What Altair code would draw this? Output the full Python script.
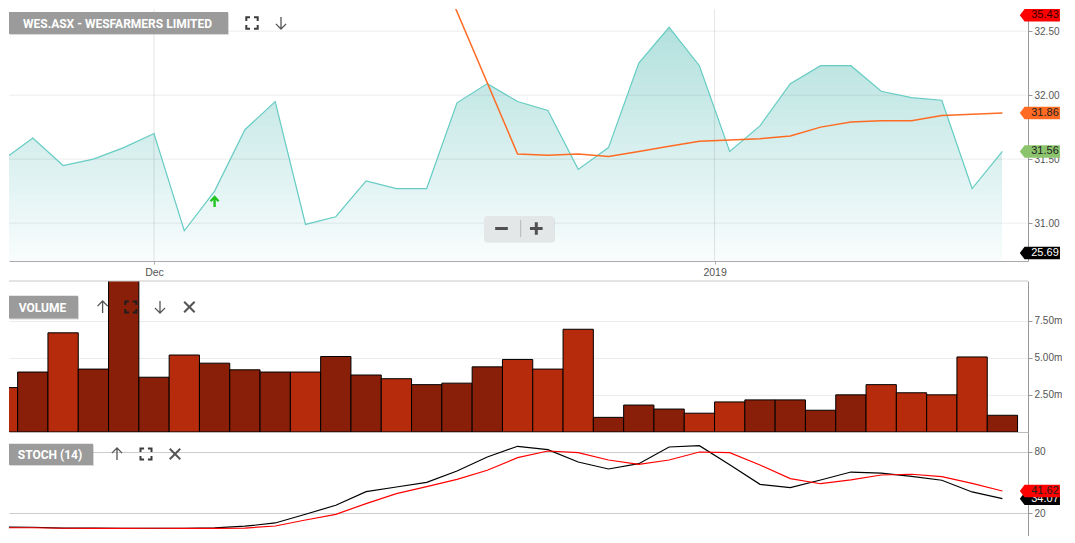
import altair as alt
import pandas as pd

# ---------------- data ----------------
dates = ["2018-11-26", "2018-11-27", "2018-11-28", "2018-11-29", "2018-11-30",
         "2018-12-03", "2018-12-04", "2018-12-05", "2018-12-06", "2018-12-07",
         "2018-12-10", "2018-12-11", "2018-12-12", "2018-12-13", "2018-12-14",
         "2018-12-17", "2018-12-18", "2018-12-19", "2018-12-20", "2018-12-21",
         "2018-12-24", "2018-12-27", "2018-12-28", "2018-12-31",
         "2019-01-02", "2019-01-03", "2019-01-04", "2019-01-07", "2019-01-08",
         "2019-01-09", "2019-01-10", "2019-01-11", "2019-01-14", "2019-01-15"]

close = [31.49, 31.665, 31.45, 31.50, 31.59, 31.70, 30.94, 31.25, 31.73, 31.95,
         30.99, 31.05, 31.33, 31.27, 31.27, 31.94, 32.09, 31.95, 31.88, 31.42,
         31.59, 32.25, 32.53, 32.23, 31.56, 31.76, 32.09, 32.23, 32.23, 32.03,
         31.98, 31.96, 31.27, 31.56]

sma = ([None] * 10 + [35.43] + [None] * 6 +
       [31.54, 31.53, 31.54, 31.52, 31.56, 31.60, 31.64, 31.65, 31.66, 31.68,
        31.75, 31.79, 31.80, 31.80, 31.84, 31.85, 31.86])

volume_m = [3.0, 4.05, 6.7, 4.25, 10.6, 3.7, 5.2, 4.65, 4.2, 4.05,
            4.05, 5.1, 3.85, 3.6, 3.2, 3.3, 4.4, 4.9, 4.25, 6.94,
            0.99, 1.82, 1.55, 1.27, 2.03, 2.17, 2.17, 1.47, 2.51, 3.20,
            2.65, 2.51, 5.07, 1.13]

vol_dir = ["down", "up", "down", "up", "up", "up", "down", "up", "up", "up",
           "down", "up", "up", "down", "up", "up", "up", "down", "down", "down",
           "up", "up", "up", "down", "down", "up", "up", "up", "up", "down",
           "down", "down", "down", "up"]

stoch_k = [6.2, 6.0, 5.2, 5.2, 5.0, 5.0, 5.0, 5.3, 7.0, 10.2,
           18.8, 27.6, 41.0, 45.6, 50.2, 61.3, 75.1, 85.6, 82.3, 70.2,
           63.3, 68.5, 84.9, 86.2, 67.5, 48.2, 44.9, 52.5, 60.3, 59.3,
           56.1, 52.2, 40.7, 34.07]

stoch_d = [5.5, 5.5, 5.0, 4.8, 4.8, 5.0, 4.8, 4.8, 5.2, 7.2,
           13.1, 18.7, 29.2, 39.0, 45.9, 53.1, 62.0, 74.4, 81.0, 79.3,
           72.1, 67.9, 72.1, 80.0, 79.3, 67.2, 53.8, 48.8, 52.5, 57.4,
           58.1, 55.7, 49.2, 41.62]

signal_idx = [7]
signal_val = [31.165]

price_ticks = [31.0, 31.5, 32.0, 32.5]
volume_ticks = [2.5, 5.0, 7.5]
stoch_ticks = [20, 80]

price_tag_series = ["upper", "sma", "close", "lower"]
price_tag_values = [35.43, sma[-1], close[-1], 25.69]
stoch_tag_series = ["%K", "%D"]
stoch_tag_values = [stoch_k[-1], stoch_d[-1]]

title_text = "WES.ASX - WESFARMERS LIMITED"

# ---------------- layout / style ----------------
W = 1019
PH, VH, SH = 252, 151, 104
STEP = 30.3
X_LO = 6.5 / STEP
X_HI = X_LO + W / STEP
P_LO, P_HI = 30.704, 32.673
PXU = PH / (P_HI - P_LO)
V_HI = 10.2
S_LO, S_HI = -2.62, 99.67

TEAL = "#66ccc3"
ORANGE = "#ff6b22"
GREEN_TAG = "#8cc46e"
RED = "#ff0000"
BAR_DOWN = "#b72b0d"
BAR_UP = "#891f09"
FONT = "Liberation Sans"

TAG = "M -0.77 0 L 0 -1 L 5.66 -1 L 5.66 1 L 0 1 Z"
FULL = ("M -1 -0.35 L -1 -1 L -0.35 -1 M 0.35 -1 L 1 -1 L 1 -0.35 "
        "M 1 0.35 L 1 1 L 0.35 1 M -0.35 1 L -1 1 L -1 0.35")
UP = "M 0 1 L 0 -1 M -0.85 -0.15 L 0 -1 L 0.85 -0.15"
DOWN = "M 0 -1 L 0 1 M -0.85 0.15 L 0 1 L 0.85 0.15"
CROSS = "M -1 -1 L 1 1 M 1 -1 L -1 1"
SIG = "M 0 1 L 0 -1 M -0.8 -0.15 L 0 -1 L 0.8 -0.15"
MINUS = "M -1 0 L 1 0"
PLUS = "M -1 0 L 1 0 M 0 -1 L 0 1"

N = len(dates)
df = pd.DataFrame({"i": list(range(N)), "date": dates, "close": close, "sma": sma,
                   "vol": volume_m, "dir": vol_dir, "k": stoch_k, "d": stoch_d})

# x ticks at month / year boundaries
dts = pd.to_datetime(pd.Series(dates))
tick_pos, tick_lab = [], []
for j in range(1, N):
    if dts[j].year != dts[j - 1].year:
        tick_pos.append(j - 0.5)
        tick_lab.append(str(dts[j].year))
    elif dts[j].month != dts[j - 1].month:
        tick_pos.append(float(j))
        tick_lab.append(dts[j].strftime("%b"))
label_expr = " : ".join(f"datum.value == {p} ? '{l}'" for p, l in zip(tick_pos, tick_lab)) + " : ''"

xscale = alt.Scale(domain=[X_LO, X_HI], nice=False, zero=False)
pscale = alt.Scale(domain=[P_LO, P_HI], nice=False, zero=False)
vscale = alt.Scale(domain=[0, V_HI], nice=False, zero=False)
sscale = alt.Scale(domain=[S_LO, S_HI], nice=False, zero=False)
one = pd.DataFrame({"k": [0]})

# axis objects (re-used identically by every layer of a panel)
ax_px = alt.Axis(values=tick_pos, labelExpr=label_expr, grid=False,
                 tickSize=3, tickColor="#aaaaaa", domainColor="#aaaaaa", labelPadding=3,
                 labelFontSize=10.5, labelColor="#555555", labelFlush=False, title=None)
ax_py = alt.Axis(orient="right", values=price_ticks, format=".2f", grid=False,
                 tickSize=4, labelPadding=2, domainColor="#999999",
                 tickColor="#999999", title=None)
ax_vx = alt.Axis(labels=False, ticks=False, grid=False, domain=True, domainColor="#bbbbbb", title=None)
ax_vy = alt.Axis(orient="right", values=volume_ticks, labelExpr="format(datum.value, '.2f') + 'm'",
                 grid=True, gridColor="#ececec", tickSize=4, labelPadding=2,
                 domainColor="#999999", tickColor="#999999", title=None)
ax_sx = alt.Axis(labels=False, ticks=False, grid=False, domain=True, domainColor="#c8c8c8", title=None)
ax_sy = alt.Axis(orient="right", values=stoch_ticks, format="d", grid=True, gridColor="#cccccc",
                 tickSize=4, labelPadding=2, domainColor="#999999", tickColor="#999999", title=None)


def pt(shape, x, y, size, color, sw=1.5):
    return alt.Chart(one).mark_point(shape=shape, filled=False, size=size, color=color,
                                     opacity=1, strokeWidth=sw).encode(
        x=alt.value(x), y=alt.value(y))


def label_box(text, x0, x1, y0, y1):
    d = pd.DataFrame({"t": [text]})
    shadow = alt.Chart(d).mark_rect(color="#000000", opacity=0.15).encode(
        x=alt.value(x0 + 1), x2=alt.value(x1 + 1), y=alt.value(y0 + 1), y2=alt.value(y1 + 1))
    box = alt.Chart(d).mark_rect(color="#9b9b9b").encode(
        x=alt.value(x0), x2=alt.value(x1), y=alt.value(y0), y2=alt.value(y1))
    txt = alt.Chart(d).mark_text(color="white", font="Roboto", fontWeight="bold", fontSize=12,
                                 align="center", baseline="middle").encode(
        x=alt.value((x0 + x1) / 2 - 1), y=alt.value((y0 + y1) / 2 + 0.5), text="t:N")
    return [shadow, box, txt]


# ---------------- price panel ----------------
px = alt.X("i:Q", scale=xscale, axis=ax_px)

# vertical fill gradient, built from stacked bands; the part above the price line is masked white
NB = 30
band_top = [P_LO + (P_HI - P_LO) * (k + 1) / NB for k in range(NB)][::-1]
bands = alt.Chart(pd.DataFrame({"top": band_top})).transform_calculate(
    mid=f"datum.top - {(P_HI - P_LO) / (2 * NB)}", x0=f"{X_LO}", x1=f"{N - 1 - 0.03}", base=f"{P_LO}"
).mark_rect(clip=True, opacity=1, strokeWidth=0).encode(
    x=alt.X("x0:Q", scale=xscale, axis=ax_px), x2="x1:Q",
    y=alt.Y("top:Q", scale=pscale, axis=ax_py), y2="base:Q",
    color=alt.Color("mid:Q", legend=None,
                    scale=alt.Scale(domain=[P_LO, P_HI], range=["#f9fdfd", "#acdeda"])))
mask = alt.Chart(df).transform_calculate(ptop=f"{P_HI + 0.05}").mark_area(
    clip=True, color="#ffffff", opacity=1).encode(
    x=px, y=alt.Y("close:Q", scale=pscale, axis=ax_py), y2="ptop:Q")

grid_h = alt.Chart(pd.DataFrame({"v": price_ticks})).mark_rule(
    color="#000000", opacity=0.075).encode(
    y=alt.Y("v:Q", scale=pscale, axis=ax_py), x=alt.value(0), x2=alt.value(W))
grid_v = alt.Chart(pd.DataFrame({"p": tick_pos})).mark_rule(
    color="#000000", opacity=0.1).encode(
    x=alt.X("p:Q", scale=xscale, axis=ax_px), y=alt.value(0), y2=alt.value(PH))

pline = alt.Chart(df).mark_line(clip=True, color=TEAL, strokeWidth=1.2).encode(
    x=px, y=alt.Y("close:Q", scale=pscale, axis=ax_py))
sline = alt.Chart(df).transform_filter("isValid(datum.sma)").mark_line(
    clip=True, color=ORANGE, strokeWidth=1.5).encode(
    x=px, y=alt.Y("sma:Q", scale=pscale, axis=ax_py))
sig = alt.Chart(pd.DataFrame({"i": signal_idx, "v": signal_val})).mark_point(
    shape=SIG, filled=False, size=100, color="#22c422", strokeWidth=2.4, opacity=1).encode(
    x=px, y=alt.Y("v:Q", scale=pscale, axis=ax_py))

ptags = pd.DataFrame({"series": price_tag_series, "v": price_tag_values})
lo_pin = P_LO + 8 / PXU
hi_pin = P_HI - 6.25 / PXU
ptag_base = alt.Chart(ptags).transform_calculate(vc=f"clamp(datum.v, {lo_pin}, {hi_pin})")
ptag_y = alt.Y("vc:Q", scale=pscale, axis=ax_py)
ptag_shape = ptag_base.mark_point(shape=TAG, filled=True, size=156, opacity=1, strokeWidth=0).encode(
    x=alt.value(W - 3.4), y=ptag_y,
    fill=alt.Fill("series:N", legend=None,
                  scale=alt.Scale(domain=price_tag_series, range=[RED, ORANGE, GREEN_TAG, "#000000"])))
ptag_text = ptag_base.mark_text(align="center", baseline="middle", fontSize=11, font=FONT).encode(
    x=alt.value(W + 17), y=ptag_y, text=alt.Text("v:Q", format=".2f"),
    color=alt.Color("series:N", legend=None,
                    scale=alt.Scale(domain=price_tag_series,
                                    range=["#330000", "#222222", "#222222", "#ffffff"])))

zoom_box = alt.Chart(one).mark_rect(color="#e4e7e8", cornerRadius=3).encode(
    x=alt.value(475), x2=alt.value(545), y=alt.value(207), y2=alt.value(232))
zoom_shadow = alt.Chart(one).mark_rect(color="#000000", opacity=0.08, cornerRadius=3).encode(
    x=alt.value(475), x2=alt.value(546), y=alt.value(208), y2=alt.value(233.5))
zoom_sep = alt.Chart(one).mark_rule(color="#b5b5b5").encode(
    x=alt.value(511.7), y=alt.value(211), y2=alt.value(228))

price = alt.layer(
    bands, mask, grid_h, grid_v, pline, sline, sig, ptag_shape, ptag_text,
    *label_box(title_text, 0, 219, 3, 25),
    pt(FULL, 243, 14, 130, "#3c3c3c", sw=2),
    pt(DOWN, 272, 14, 144, "#555555", sw=1.3),
    zoom_shadow, zoom_box, zoom_sep,
    pt(MINUS, 492.5, 219.5, 160, "#505050", sw=3),
    pt(PLUS, 527.3, 219.5, 160, "#505050", sw=3),
).resolve_scale(fill="independent", color="independent").properties(width=W, height=PH)

# ---------------- volume panel ----------------
bars = alt.Chart(df).transform_calculate(x0="datum.i - 0.5", x1="datum.i + 0.5").mark_rect(
    clip=True, stroke="#000000", strokeWidth=1, opacity=1).encode(
    x=alt.X("x0:Q", scale=xscale, axis=ax_vx), x2="x1:Q",
    y=alt.Y("vol:Q", scale=vscale, axis=ax_vy), y2=alt.value(VH),
    color=alt.Color("dir:N", legend=None,
                    scale=alt.Scale(domain=["up", "down"], range=[BAR_UP, BAR_DOWN])))
vol_top = alt.Chart(one).mark_rule(color="#c8c8c8").encode(
    x=alt.value(0), x2=alt.value(W), y=alt.value(0))

volume = alt.layer(
    bars, vol_top,
    *label_box("VOLUME", 0, 69, 14.8, 37.5),
    pt(UP, 93.6, 26, 144, "#555555", sw=1.3),
    pt(FULL, 121.8, 26, 121, "#1e1e1e", sw=2),
    pt(DOWN, 151, 26, 144, "#555555", sw=1.3),
    pt(CROSS, 180.4, 26, 110, "#555555", sw=2),
).properties(width=W, height=VH)

# ---------------- stochastic panel ----------------
sx = alt.X("i:Q", scale=xscale, axis=ax_sx)
kline = alt.Chart(df).mark_line(clip=True, color="#000000", strokeWidth=1.2).encode(
    x=sx, y=alt.Y("k:Q", scale=sscale, axis=ax_sy))
dline = alt.Chart(df).mark_line(clip=True, color=RED, strokeWidth=1.2).encode(
    x=sx, y=alt.Y("d:Q", scale=sscale, axis=ax_sy))

stags = pd.DataFrame({"series": stoch_tag_series, "v": stoch_tag_values})
stag_y = alt.Y("v:Q", scale=sscale, axis=ax_sy)
stag_shape = alt.Chart(stags).mark_point(shape=TAG, filled=True, size=156, opacity=1,
                                         strokeWidth=0).encode(
    x=alt.value(W - 3.4), y=stag_y,
    fill=alt.Fill("series:N", legend=None,
                  scale=alt.Scale(domain=stoch_tag_series, range=["#000000", RED])))
stag_text = alt.Chart(stags).mark_text(align="center", baseline="middle", fontSize=11,
                                       font=FONT).encode(
    x=alt.value(W + 17), y=stag_y, text=alt.Text("v:Q", format=".2f"),
    color=alt.Color("series:N", legend=None,
                    scale=alt.Scale(domain=stoch_tag_series, range=["#ffffff", "#222222"])))

stoch = alt.layer(
    kline, dline,
    stag_shape.transform_filter("datum.series == '%K'"),
    stag_text.transform_filter("datum.series == '%K'"),
    stag_shape.transform_filter("datum.series == '%D'"),
    stag_text.transform_filter("datum.series == '%D'"),
    *label_box("STOCH (14)", 0, 84, 11.7, 33),
    pt(UP, 108, 22, 144, "#555555", sw=1.3),
    pt(FULL, 137, 22, 121, "#3c3c3c", sw=2),
    pt(CROSS, 166, 22, 110, "#555555", sw=2),
).resolve_scale(fill="independent", color="independent").properties(width=W, height=SH)

lower = alt.vconcat(volume, stoch, spacing=0, bounds="flush")

chart = alt.vconcat(price, lower, spacing=20, bounds="flush", padding=0).resolve_scale(
    color="independent", fill="independent"
).configure_view(stroke=None).configure_axis(
    labelFont=FONT, labelFontSize=10, labelColor="#555555"
)

chart.save("out.html", embed_options={"renderer": "svg", "actions": False})
